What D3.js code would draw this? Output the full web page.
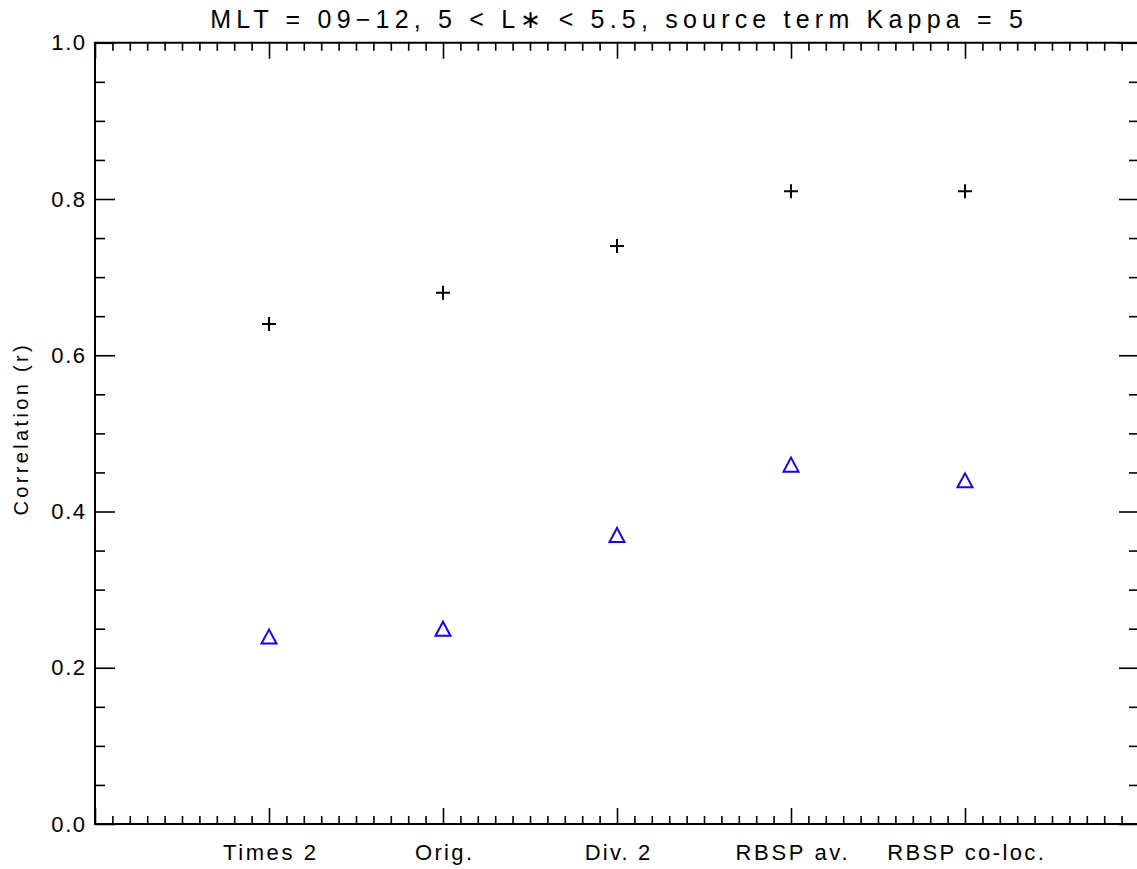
<!DOCTYPE html>
<html>
<head>
<meta charset="utf-8">
<script src="https://cdn.jsdelivr.net/npm/d3@7"></script>
<style>
  html, body { margin: 0; padding: 0; background: #fff; }
  svg { display: block; }
  text { font-family: "Liberation Sans", "DejaVu Sans", sans-serif; fill: #000; }
</style>
</head>
<body>
<svg id="chart" width="1137" height="869"></svg>
<script>
// Category labels along the x axis (placed at positions 1..5)
const categories = ["Times 2", "Orig.", "Div. 2", "RBSP av.", "RBSP co-loc."];
// Correlation values for each run
const plusValues = [0.64, 0.68, 0.74, 0.81, 0.81];
const triangleValues = [0.24, 0.25, 0.37, 0.46, 0.44];
// Y tick values and labels
const yMajorTicks = [0.0, 0.2, 0.4, 0.6, 0.8, 1.0];
const titleText = "MLT = 09\u221212, 5 < L\u2217 < 5.5, source term Kappa = 5";
const yLabel = "Correlation (r)";

const svg = d3.select("#chart");
const plotLeft = 95, plotRight = 1139, plotTop = 42.75, plotBottom = 824;

const x = d3.scaleLinear().domain([0, categories.length + 1]).range([plotLeft, plotRight]);
const y = d3.scaleLinear().domain([0, 1]).range([plotBottom, plotTop]);

const xMajor = d3.range(0, categories.length + 2);
const xMinor = d3.range(0, (categories.length + 1) * 10 + 1).map(i => i / 10).filter(v => Math.abs(v - Math.round(v)) > 1e-6);
const yMinor = d3.range(0, 21).map(i => i / 20).filter(v => Math.abs(v * 5 - Math.round(v * 5)) > 1e-6);

const tickStroke = 1.6;

// Widen text to a wide vector-font look by spreading the glyphs
function stretch(sel, factor) {
  sel.each(function () {
    const w = this.getComputedTextLength();
    if (w > 0) d3.select(this).attr("textLength", w * factor).attr("lengthAdjust", "spacing");
  });
}

function styleAxis(g) {
  g.select(".domain").remove();
  g.selectAll("line").attr("stroke", "#000").attr("stroke-width", tickStroke);
}

// Bottom axis: major ticks with category names, minor ticks
svg.append("g")
  .attr("transform", `translate(0,${plotBottom})`)
  .call(d3.axisBottom(x).tickValues(xMajor)
    .tickFormat(d => (d >= 1 && d <= categories.length) ? categories[d - 1] : "")
    .tickSizeInner(-16).tickSizeOuter(0).tickPadding(20))
  .call(styleAxis)
  .call(g => g.selectAll("text").attr("font-size", 22).call(stretch, 1.2));
svg.append("g")
  .attr("transform", `translate(0,${plotBottom})`)
  .call(d3.axisBottom(x).tickValues(xMinor).tickFormat("").tickSizeInner(-8).tickSizeOuter(0))
  .call(styleAxis);

// Top axis: ticks only
svg.append("g")
  .attr("transform", `translate(0,${plotTop})`)
  .call(d3.axisTop(x).tickValues(xMajor).tickFormat("").tickSizeInner(-16).tickSizeOuter(0))
  .call(styleAxis);
svg.append("g")
  .attr("transform", `translate(0,${plotTop})`)
  .call(d3.axisTop(x).tickValues(xMinor).tickFormat("").tickSizeInner(-8).tickSizeOuter(0))
  .call(styleAxis);

// Left axis: labelled major ticks and minor ticks
svg.append("g")
  .attr("transform", `translate(${plotLeft},0)`)
  .call(d3.axisLeft(y).tickValues(yMajorTicks).tickFormat(d3.format(".1f"))
    .tickSizeInner(-20).tickSizeOuter(0).tickPadding(10))
  .call(styleAxis)
  .call(g => g.selectAll("text").attr("font-size", 22).call(stretch, 1.1));
svg.append("g")
  .attr("transform", `translate(${plotLeft},0)`)
  .call(d3.axisLeft(y).tickValues(yMinor).tickFormat("").tickSizeInner(-10).tickSizeOuter(0))
  .call(styleAxis);

// Right axis: ticks only
svg.append("g")
  .attr("transform", `translate(${plotRight},0)`)
  .call(d3.axisRight(y).tickValues(yMajorTicks).tickFormat("").tickSizeInner(-20).tickSizeOuter(0))
  .call(styleAxis);
svg.append("g")
  .attr("transform", `translate(${plotRight},0)`)
  .call(d3.axisRight(y).tickValues(yMinor).tickFormat("").tickSizeInner(-10).tickSizeOuter(0))
  .call(styleAxis);

// Frame
svg.append("rect")
  .attr("x", plotLeft).attr("y", plotTop)
  .attr("width", plotRight - plotLeft).attr("height", plotBottom - plotTop)
  .attr("fill", "none").attr("stroke", "#000").attr("stroke-width", 2);

// Plus markers
const ps = 7;
svg.append("g").selectAll("path")
  .data(plusValues)
  .join("path")
  .attr("d", (d, i) => {
    const cx = x(i + 1), cy = y(d);
    return `M${cx - ps},${cy}H${cx + ps}M${cx},${cy - ps}V${cy + ps}`;
  })
  .attr("stroke", "#000").attr("stroke-width", 2).attr("fill", "none");

// Triangle markers
const tw = 7.5, th = 7;
svg.append("g").selectAll("path")
  .data(triangleValues)
  .join("path")
  .attr("d", (d, i) => {
    const cx = x(i + 1), cy = y(d);
    return `M${cx - tw},${cy + th}L${cx},${cy - th}L${cx + tw},${cy + th}Z`;
  })
  .attr("stroke", "#1a00ff").attr("stroke-width", 2).attr("fill", "none");

// Title
svg.append("text")
  .attr("x", (plotLeft + plotRight) / 2 - 0.5).attr("y", 28)
  .attr("text-anchor", "middle")
  .attr("font-size", 25)
  .text(titleText)
  .call(stretch, 1.43);

// Y axis title
svg.append("text")
  .attr("transform", `translate(28,${y(0.5) - 3}) rotate(-90)`)
  .attr("text-anchor", "middle")
  .attr("font-size", 20)
  .text(yLabel)
  .call(stretch, 1.38);
</script>
</body>
</html>
